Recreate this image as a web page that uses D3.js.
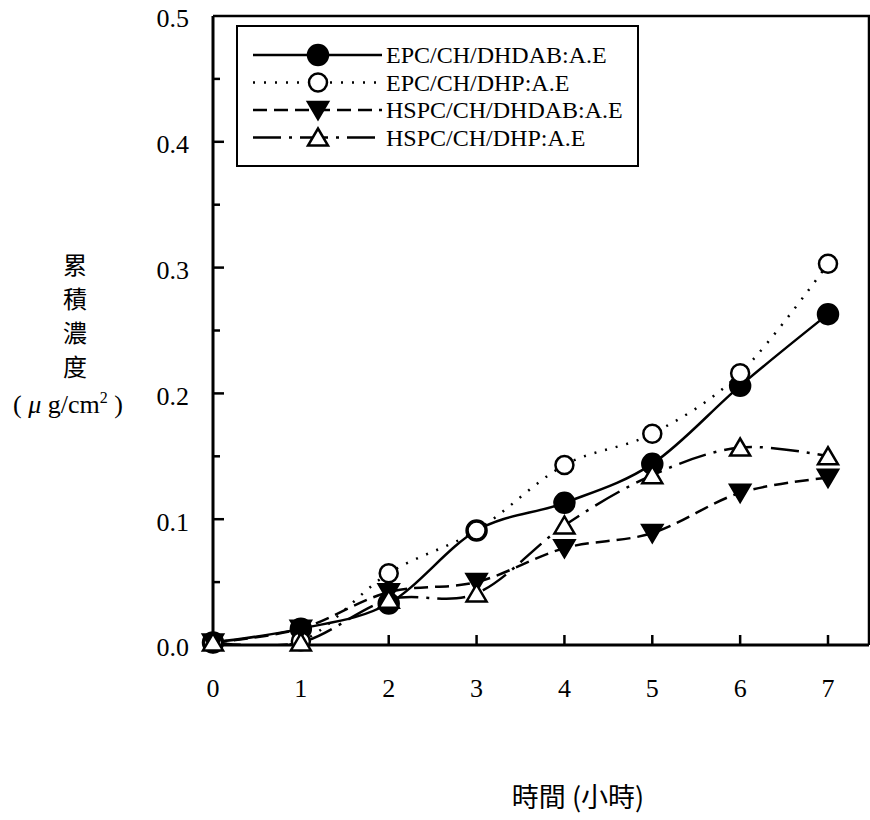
<!DOCTYPE html>
<html>
<head>
<meta charset="utf-8">
<script src="https://cdn.jsdelivr.net/npm/d3@7"></script>
<style>
  body { margin: 0; background: #fff; }
  svg { display: block; }
  .tick-label { font-family: "Liberation Serif", "Times New Roman", serif; font-size: 26px; fill: #000; }
  .legend-text { font-family: "Liberation Serif", "Times New Roman", serif; font-size: 24px; fill: #000; }
  .cjk { font-family: "Noto Sans CJK TC", "Noto Sans CJK SC", sans-serif; font-size: 24px; fill: #000; }
</style>
</head>
<body>
<div id="chart"></div>
<script>
var hours = [0, 1, 2, 3, 4, 5, 6, 7];
var yTicks = [0.0, 0.1, 0.2, 0.3, 0.4, 0.5];
var yMinorTicks = [0.05, 0.15, 0.25, 0.35, 0.45];

var seriesNames = ["EPC/CH/DHDAB:A.E", "EPC/CH/DHP:A.E", "HSPC/CH/DHDAB:A.E", "HSPC/CH/DHP:A.E"];
var epcDhdab = [0.002, 0.013, 0.033, 0.091, 0.113, 0.144, 0.206, 0.263];
var epcDhp = [0.002, 0.003, 0.057, 0.091, 0.143, 0.168, 0.216, 0.303];
var hspcDhdab = [0.002, 0.013, 0.042, 0.050, 0.077, 0.089, 0.121, 0.133];
var hspcDhp = [0.002, 0.002, 0.036, 0.041, 0.095, 0.135, 0.157, 0.150];

var svgWidth = 870;
var svgHeight = 820;

var margin = { top: 16, left: 213, bottom: 175 };
var plotRight = 869;

var svg = d3.select("#chart")
    .append("svg")
    .attr("width", svgWidth)
    .attr("height", svgHeight);

var xScale = d3.scaleLinear()
    .domain([0, 7])
    .range([margin.left, 828]);

var yScale = d3.scaleLinear()
    .domain([0, 0.5])
    .range([svgHeight - margin.bottom, margin.top]);

var styles = [
    { values: epcDhdab, dash: null, marker: "circle", fill: "#000" },
    { values: epcDhp, dash: "2,9", marker: "circle", fill: "#fff" },
    { values: hspcDhdab, dash: "14,7", marker: "down", fill: "#000" },
    { values: hspcDhp, dash: "28,8,3,8", marker: "up", fill: "#fff" }
];

// keep the smoothed lines inside the plot
svg.append("clipPath").attr("id", "plot-clip")
    .append("rect")
    .attr("x", margin.left).attr("y", yScale(0.5))
    .attr("width", plotRight - margin.left)
    .attr("height", yScale(0) - yScale(0.5));

// frame: top and right border
svg.append("path")
    .attr("d", `M${margin.left},${yScale(0.5)}H${plotRight}V${yScale(0)}`)
    .attr("fill", "none")
    .attr("stroke", "#000")
    .attr("stroke-width", 2.5);

// y axis
var yAxis = svg.append("g");
yAxis.append("line")
    .attr("x1", margin.left).attr("x2", margin.left)
    .attr("y1", yScale(0.5)).attr("y2", yScale(0))
    .attr("stroke", "#000").attr("stroke-width", 3);
yAxis.selectAll(".major")
    .data(yTicks.slice(1, 5))
    .enter().append("line")
    .attr("x1", margin.left).attr("x2", margin.left + 11)
    .attr("y1", d => yScale(d)).attr("y2", d => yScale(d))
    .attr("stroke", "#000").attr("stroke-width", 2.5);
yAxis.selectAll(".minor")
    .data(yMinorTicks)
    .enter().append("line")
    .attr("x1", margin.left).attr("x2", margin.left + 7)
    .attr("y1", d => yScale(d)).attr("y2", d => yScale(d))
    .attr("stroke", "#000").attr("stroke-width", 2.5);
yAxis.selectAll("text")
    .data(yTicks)
    .enter().append("text")
    .attr("class", "tick-label")
    .attr("x", margin.left - 24)
    .attr("y", d => yScale(d))
    .attr("dy", "0.44em")
    .attr("text-anchor", "end")
    .text(d => d.toFixed(1));

// x axis
var xAxis = svg.append("g");
xAxis.append("line")
    .attr("x1", margin.left).attr("x2", plotRight)
    .attr("y1", yScale(0)).attr("y2", yScale(0))
    .attr("stroke", "#000").attr("stroke-width", 3);
xAxis.selectAll(".tick")
    .data(hours.slice(1))
    .enter().append("line")
    .attr("x1", d => xScale(d)).attr("x2", d => xScale(d))
    .attr("y1", yScale(0)).attr("y2", yScale(0) - 10)
    .attr("stroke", "#000").attr("stroke-width", 2.5);
xAxis.selectAll("text")
    .data(hours)
    .enter().append("text")
    .attr("class", "tick-label")
    .attr("x", d => xScale(d))
    .attr("y", yScale(0) + 52)
    .attr("text-anchor", "middle")
    .text(d => d);

// series lines
var line = d3.line()
    .x((d, i) => xScale(hours[i]))
    .y(d => yScale(d))
    .curve(d3.curveCardinal.tension(0));

function drawMarker(g, type, fill, x, y) {
    if (type === "circle") {
        g.append("circle")
            .attr("cx", x).attr("cy", y)
            .attr("r", fill === "#000" ? 10 : 9)
            .attr("fill", fill)
            .attr("stroke", "#000")
            .attr("stroke-width", 2.5);
    } else {
        var s = type === "down" ? 1 : -1;
        g.append("path")
            .attr("d", `M${x - 10},${y - 8 * s}L${x + 10},${y - 8 * s}L${x},${y + 9 * s}Z`)
            .attr("fill", fill)
            .attr("stroke", "#000")
            .attr("stroke-width", 2.5)
            .attr("stroke-linejoin", "miter");
    }
}

styles.forEach(function(st) {
    svg.append("path")
        .attr("d", line(st.values))
        .attr("clip-path", "url(#plot-clip)")
        .attr("fill", "none")
        .attr("stroke", "#000")
        .attr("stroke-width", 2.5)
        .attr("stroke-dasharray", st.dash);
});

styles.forEach(function(st) {
    var g = svg.append("g");
    st.values.forEach(function(v, i) {
        drawMarker(g, st.marker, st.fill, xScale(hours[i]), yScale(v));
    });
});

// legend
var legend = svg.append("g");
legend.append("rect")
    .attr("x", 237).attr("y", 26)
    .attr("width", 401).attr("height", 140)
    .attr("fill", "#fff")
    .attr("stroke", "#000")
    .attr("stroke-width", 2);

styles.forEach(function(st, i) {
    var ly = 55 + i * 27.5;
    legend.append("line")
        .attr("x1", 253).attr("x2", 382)
        .attr("y1", ly).attr("y2", ly)
        .attr("stroke", "#000")
        .attr("stroke-width", 2.5)
        .attr("stroke-dasharray", st.dash);
    drawMarker(legend, st.marker, st.fill, 318, ly);
    legend.append("text")
        .attr("class", "legend-text")
        .attr("x", 386)
        .attr("y", ly)
        .attr("dy", "0.34em")
        .text(seriesNames[i]);
});

// axis titles
var yTitle = ["累", "積", "濃", "度"];
svg.selectAll(".ytitle")
    .data(yTitle)
    .enter().append("text")
    .attr("class", "cjk")
    .attr("x", 75)
    .attr("y", (d, i) => 274 + i * 34)
    .attr("text-anchor", "middle")
    .text(d => d);

var unit = svg.append("text")
    .attr("class", "tick-label")
    .attr("x", 68)
    .attr("y", 413)
    .attr("text-anchor", "middle")
    .style("font-size", "26px");
unit.append("tspan").text("( ");
unit.append("tspan").style("font-style", "italic").text("μ");
unit.append("tspan").text(" g/cm");
unit.append("tspan").attr("dy", -10).style("font-size", "16px").text("2");
unit.append("tspan").attr("dy", 10).text(" )");

svg.append("text")
    .attr("class", "cjk")
    .attr("x", 578)
    .attr("y", 807)
    .attr("text-anchor", "middle")
    .style("font-size", "27px")
    .text("時間 (小時)");
</script>
</body>
</html>
